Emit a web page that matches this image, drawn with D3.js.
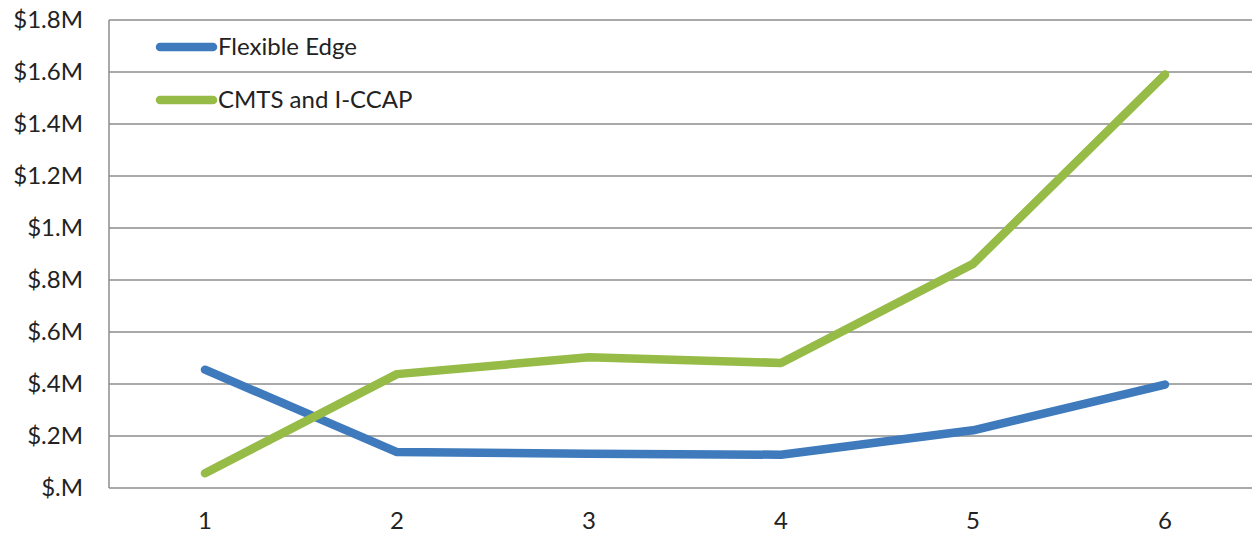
<!DOCTYPE html>
<html>
<head>
<meta charset="utf-8">
<script src="https://cdn.jsdelivr.net/npm/d3@7"></script>
<style>
  body { margin: 0; background: #fff; }
  text { font-family: Lato, "Open Sans", sans-serif; fill: #222; }
</style>
</head>
<body>
<div id="chart"></div>
<script>
// Chart data
const periods = ["1", "2", "3", "4", "5", "6"];
const flexibleEdge = [0.455, 0.138, 0.132, 0.128, 0.222, 0.398];
const cmtsICcap = [0.057, 0.438, 0.503, 0.481, 0.862, 1.59];
const yTicks = [0, 0.2, 0.4, 0.6, 0.8, 1.0, 1.2, 1.4, 1.6, 1.8];
const yTickLabels = ["$.M", "$.2M", "$.4M", "$.6M", "$.8M", "$1.M", "$1.2M", "$1.4M", "$1.6M", "$1.8M"];
const seriesNames = ["Flexible Edge", "CMTS and I-CCAP"];

const width = 1252, height = 534;
const margin = {top: 20, right: -9, bottom: 46, left: 109};

const svg = d3.select("#chart").append("svg")
    .attr("width", width)
    .attr("height", height);

const x = d3.scalePoint()
    .domain(periods)
    .range([margin.left, width - margin.right])
    .padding(0.5);

const y = d3.scaleLinear()
    .domain([0, 1.8])
    .range([height - margin.bottom, margin.top]);

// gridlines
svg.append("g")
  .selectAll("line")
  .data(yTicks)
  .enter().append("line")
    .attr("x1", margin.left)
    .attr("x2", width)
    .attr("y1", d => y(d))
    .attr("y2", d => y(d))
    .attr("stroke", "#8c8c8c")
    .attr("stroke-width", 1.5);

// left axis line
svg.append("line")
    .attr("x1", margin.left).attr("x2", margin.left)
    .attr("y1", y(1.8)).attr("y2", y(0))
    .attr("stroke", "#8c8c8c")
    .attr("stroke-width", 1.5);

// y labels
svg.append("g")
  .selectAll("text")
  .data(yTicks)
  .enter().append("text")
    .attr("x", 83)
    .attr("y", d => y(d))
    .attr("dy", "0.35em")
    .attr("text-anchor", "end")
    .attr("font-size", 24)
    .text((d, i) => yTickLabels[i]);

// x labels
svg.append("g")
  .selectAll("text")
  .data(periods)
  .enter().append("text")
    .attr("x", d => x(d))
    .attr("y", 529)
    .attr("text-anchor", "middle")
    .attr("font-size", 24)
    .text(d => d);

const colors = ["#3e7abc", "#96bb46"];
const line = d3.line()
    .x((d, i) => x(periods[i]))
    .y(d => y(d));

[flexibleEdge, cmtsICcap].forEach((vals, k) => {
  svg.append("path")
      .datum(vals)
      .attr("d", line)
      .attr("fill", "none")
      .attr("stroke", colors[k])
      .attr("stroke-width", 8.5)
      .attr("stroke-linecap", "round")
      .attr("stroke-linejoin", "round");
});

// legend
const legend = svg.append("g")
  .selectAll("g")
  .data(seriesNames)
  .enter().append("g")
    .attr("transform", (d, i) => `translate(160,${47 + i * 53})`);

legend.append("line")
    .attr("x1", 0).attr("x2", 53)
    .attr("stroke", (d, i) => colors[i])
    .attr("stroke-width", 8.5)
    .attr("stroke-linecap", "round");

legend.append("text")
    .attr("x", 58)
    .attr("dy", "0.35em")
    .attr("font-size", 24)
    .text(d => d);
</script>
</body>
</html>
